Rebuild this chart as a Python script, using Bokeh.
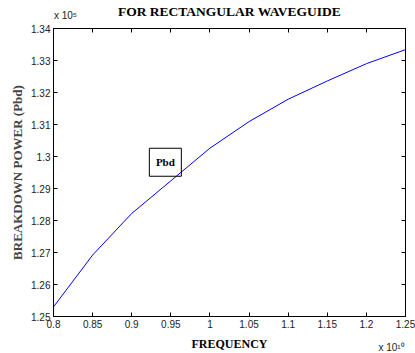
from bokeh.plotting import figure
from bokeh.models import LinearAxis, Range1d, FixedTicker
from bokeh.core.properties import value
from bokeh.embed import file_html
from bokeh.resources import INLINE

# Frequency in units of 1e10 Hz, breakdown power in units of 1e5 W
freq = [0.80, 0.85, 0.90, 0.95, 1.00, 1.05, 1.10, 1.15, 1.20, 1.25]
pbd = [1.2530, 1.2692, 1.2822, 1.2924, 1.3026, 1.3109, 1.3179, 1.3236, 1.3290, 1.3334]

x_ticks = [0.8, 0.85, 0.9, 0.95, 1.0, 1.05, 1.1, 1.15, 1.2, 1.25]
x_tick_labels = ["0.8", "0.85", "0.9", "0.95", "1", "1.05", "1.1", "1.15", "1.2", "1.25"]
y_ticks = [1.25, 1.26, 1.27, 1.28, 1.29, 1.30, 1.31, 1.32, 1.33, 1.34]
y_tick_labels = ["1.25", "1.26", "1.27", "1.28", "1.29", "1.3", "1.31", "1.32", "1.33", "1.34"]

title_text = "FOR RECTANGULAR WAVEGUIDE"
x_label = "FREQUENCY"
y_label = "BREAKDOWN POWER (Pbd)"
x_scale_text = "x 10\u00b9\u2070"
y_scale_text = "x 10\u2075"
annot_text = "Pbd"
annot_pos = (0.943, 1.2982)

SERIF = "Liberation Serif"
SANS = "Liberation Sans"

p = figure(width=415, height=353, output_backend="svg", toolbar_location=None,
           x_range=Range1d(0.8, 1.25), y_range=Range1d(1.25, 1.34),
           min_border_left=53, min_border_right=10, min_border_top=26,
           min_border_bottom=36, x_axis_location=None, y_axis_location=None)
p.background_fill_color = "white"
p.border_fill_color = "white"
p.outline_line_color = "black"
p.outline_line_width = 1
p.grid.visible = False


def make_axis(ticks, labels, show_labels):
    ax = LinearAxis(ticker=FixedTicker(ticks=ticks))
    if show_labels:
        ax.major_label_overrides = {t: l for t, l in zip(ticks, labels)}
    else:
        ax.major_label_overrides = {t: "" for t in ticks}
        ax.major_label_standoff = 0
    ax.major_tick_in = 4
    ax.major_tick_out = 0
    ax.minor_tick_line_color = None
    ax.axis_line_color = "black"
    ax.major_tick_line_color = "black"
    ax.major_label_text_font = SANS
    ax.major_label_text_font_size = "10px"
    ax.major_label_text_color = "#222222"
    return ax


def scale_axis(pos, text, standoff):
    # bare axis whose single tick label shows an exponent factor
    ax = LinearAxis(ticker=FixedTicker(ticks=[pos]))
    ax.major_label_overrides = {pos: text}
    ax.axis_line_color = None
    ax.major_tick_line_color = None
    ax.minor_tick_line_color = None
    ax.major_tick_in = 0
    ax.major_tick_out = 0
    ax.major_label_standoff = standoff
    ax.major_label_text_font = SANS
    ax.major_label_text_font_size = "10px"
    ax.major_label_text_color = "#222222"
    return ax


bottom = make_axis(x_ticks, x_tick_labels, True)
bottom.major_label_standoff = 3
p.add_layout(bottom, "below")

# outer bottom axis: x exponent factor plus the axis title
x_outer = scale_axis(1.2321, x_scale_text, 11)
x_outer.axis_label = x_label
x_outer.axis_label_text_font = SERIF
x_outer.axis_label_text_font_size = "12px"
x_outer.axis_label_text_font_style = "bold"
x_outer.axis_label_text_color = "black"
x_outer.axis_label_standoff = -19
p.add_layout(x_outer, "below")

left = make_axis(y_ticks, y_tick_labels, True)
left.major_label_standoff = 3
left.axis_label = y_label
left.axis_label_text_font = SERIF
left.axis_label_text_font_size = "13px"
left.axis_label_text_font_style = "bold"
left.axis_label_standoff = 3
p.add_layout(left, "left")

# top axis: inward ticks, and the title as its label
top = make_axis(x_ticks, x_tick_labels, False)
top.axis_label = title_text
top.axis_label_standoff = 10
top.axis_label_text_font = SERIF
top.axis_label_text_font_size = "13.5px"
top.axis_label_text_font_style = "bold"
top.axis_label_text_color = "black"
p.add_layout(top, "above")
p.add_layout(scale_axis(0.8153, y_scale_text, -20), "above")

p.add_layout(make_axis(y_ticks, y_tick_labels, False), "right")

p.line(freq, pbd, line_color="blue", line_width=1)

# text annotation with a box outline
p.rect(x=[annot_pos[0]], y=[annot_pos[1]], width=32, height=28,
       width_units="screen", height_units="screen",
       fill_color=None, line_color="black", line_width=1)
p.text(x=[annot_pos[0]], y=[annot_pos[1]], text=[annot_text],
       text_font=value(SERIF), text_font_style="bold", text_font_size="11px",
       text_align="center", text_baseline="middle", text_color="black")

open("out.html", "w").write(file_html(p, INLINE))
